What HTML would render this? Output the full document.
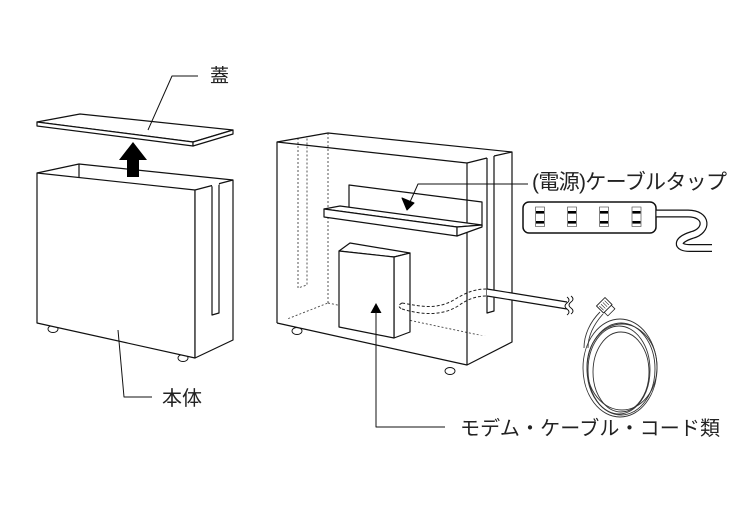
<!DOCTYPE html>
<html><head><meta charset="utf-8"><style>
html,body{margin:0;padding:0;background:#fff;}
svg{display:block;}
text{font-family:"Liberation Sans","Noto Sans CJK JP",sans-serif;fill:#222;}
</style></head><body>
<svg width="740" height="520" viewBox="0 0 740 520" xmlns="http://www.w3.org/2000/svg">
<rect width="740" height="520" fill="#fff"/>
<g fill="none" stroke="#111" stroke-width="1.2" stroke-linejoin="round">

<!-- ===== LEFT: lid ===== -->
<polygon points="37,122 80,114 233,130 193,142" fill="#fff"/>
<polygon points="37,122 193,142 193,146 37,126" fill="#fff"/>
<polygon points="193,142 233,130 233,134 193,146" fill="#fff"/>
<polyline points="148,130 172,76 198,76" stroke-width="1"/>

<!-- wheels left -->
<ellipse cx="53" cy="329" rx="5" ry="3.5" fill="#fff" stroke-width="0.9"/>
<ellipse cx="183" cy="358" rx="5" ry="3.5" fill="#fff" stroke-width="0.9"/>

<!-- box body -->
<polygon points="37,173 195,190 195,358 37,323" fill="#fff"/>
<polygon points="195,190 233,180 233,340 195,358" fill="#fff"/>
<polyline points="37,173 79,164 233,180"/>
<line x1="79" y1="164" x2="79" y2="177.5"/>
<polyline points="212,185.5 212,315 219,313 219,183.7"/>
<line x1="212" y1="185.5" x2="219" y2="183.7" stroke="#fff" stroke-width="2"/>

<!-- up arrow -->
<polygon points="133,142 147,160 139,160 139,177 127,177 127,160 119,160" fill="#000" stroke="none"/>

<!-- leader 本体 -->
<polyline points="118,330 124,397 152,397" stroke-width="1"/>

<!-- ===== RIGHT: box ===== -->
<g stroke="#444" stroke-width="0.9" stroke-dasharray="2,2">
<line x1="328" y1="133" x2="328" y2="303"/>
<line x1="277" y1="323" x2="328" y2="303"/>
<line x1="328" y1="303" x2="512" y2="342"/>
<polyline points="298,138 298,288 307,285 307,136"/>
</g>

<!-- wheels right -->
<ellipse cx="297" cy="331" rx="5" ry="3.5" fill="#fff" stroke-width="0.9"/>
<ellipse cx="450" cy="371" rx="5" ry="3.5" fill="#fff" stroke-width="0.9"/>
<polygon points="277,323 467,365 512,342 512,338 277,318" fill="#fff" stroke="none"/>

<!-- outline -->
<polyline points="277,323 277,142 328,133 512,152 512,342 467,365 277,323"/>
<polyline points="277,142 467,163 467,365"/>
<line x1="467" y1="163" x2="487" y2="158"/>
<line x1="494" y1="156" x2="512" y2="152"/>
<polyline points="487,158 487,313 494,311 494,156"/>

<!-- shelf -->
<polyline points="349,207 349,185 482,202 482,226"/>
<polygon points="324,209 340,206 482,225 457,227" fill="#fff"/>
<polygon points="324,209 457,227 457,236 324,217" fill="#fff"/>
<polygon points="457,227 482,225 482,227 457,236" fill="#fff"/>

<!-- shelf arrow -->
<polyline points="528,184 418,184 410,202" stroke-width="1"/>
<polygon points="407,210 402,198 414,203" fill="#000" stroke="#000" stroke-width="1"/>

<!-- modem -->
<polygon points="339,251 350,243 410,253 394,257" fill="#fff"/>
<polygon points="394,257 410,253 410,332 394,338" fill="#fff"/>
<polygon points="339,251 394,257 394,338 339,327" fill="#fff"/>

<!-- modem arrow -->
<polygon points="376,303 370.5,313 381.5,313" fill="#000" stroke="none"/>
<polyline points="376,312 376,427 445,427" stroke-width="1"/>

<!-- cable inside (dashed) -->
<g stroke="#222" stroke-width="1" stroke-dasharray="3,2">
<path d="M402,303 C420,306 434,310 452,301 C464,294 472,289 487,289"/>
<path d="M402,309 C422,315 442,316 458,306 C468,299 476,296 487,296"/>
<path d="M402,303 C398,305 398,307 402,309"/>
</g>

<!-- cable outside -->
<polygon points="487,289 567,302 567,309 487,296" fill="#fff" stroke="none"/>
<line x1="487" y1="289" x2="567" y2="302"/>
<line x1="487" y1="296" x2="567" y2="309"/>
<path d="M567,297 q4,3 0,6 q-4,3 0,6 q4,3 0,6" stroke-width="0.9"/>
<path d="M571,296 q4,3 0,6 q-4,3 0,6 q4,3 0,6" stroke-width="0.9"/>

<!-- power strip -->
<rect x="523" y="202" width="133" height="31" rx="6" stroke-width="1.5" fill="#fff"/>
<g stroke="#666" stroke-width="0.8" fill="#fff">
<rect x="535.5" y="207" width="9" height="19.5"/>
<rect x="567.5" y="207" width="9" height="19.5"/>
<rect x="599.5" y="207" width="9" height="19.5"/>
<rect x="632" y="207" width="9" height="19.5"/>
</g>
<g fill="#000" stroke="none">
<rect x="536" y="211" width="8" height="2.6"/>
<rect x="536" y="221" width="8" height="2.6"/>
<rect x="568" y="211" width="8" height="2.6"/>
<rect x="568" y="221" width="8" height="2.6"/>
<rect x="600" y="211" width="8" height="2.6"/>
<rect x="600" y="221" width="8" height="2.6"/>
<rect x="632.5" y="211" width="8" height="2.6"/>
<rect x="632.5" y="221" width="8" height="2.6"/>
</g>
<path d="M656.5,213.5 L688,213.5 C708,213.5 708,231 692,235 C676,240 676,248 690,248 L712,248" stroke="#111" stroke-width="8"/>
<path d="M656.5,213.5 L688,213.5 C708,213.5 708,231 692,235 C676,240 676,248 690,248 L713,248" stroke="#fff" stroke-width="5.6"/>

<!-- coiled cable -->
<g stroke="#333" stroke-width="0.9">
<ellipse cx="620" cy="368" rx="37" ry="49"/>
<ellipse cx="621" cy="369" rx="34" ry="46"/>
<ellipse cx="619" cy="370" rx="31" ry="44"/>
<ellipse cx="622" cy="367" rx="35" ry="43"/>
<ellipse cx="621" cy="372" rx="28" ry="40"/>
<path d="M584,348 C584,335 590,322 600,312"/>
<path d="M588,348 C588,336 594,324 603,314"/>
</g>
<g transform="rotate(-45 605 306)">
<rect x="599" y="300" width="12" height="10" fill="#fff" stroke="#222" stroke-width="0.9"/>
<line x1="601" y1="302" x2="601" y2="308" stroke="#222" stroke-width="0.6"/>
<line x1="603.5" y1="302" x2="603.5" y2="308" stroke="#222" stroke-width="0.6"/>
<line x1="606" y1="302" x2="606" y2="308" stroke="#222" stroke-width="0.6"/>
<line x1="608.5" y1="302" x2="608.5" y2="308" stroke="#222" stroke-width="0.6"/>
<rect x="600" y="310" width="10" height="5" fill="#fff" stroke="#222" stroke-width="0.8"/>
</g>
</g>

<!-- labels -->
<text x="210" y="82" font-size="19">蓋</text>
<text x="162" y="405" font-size="20">本体</text>
<text x="532" y="189" font-size="21" textLength="195" lengthAdjust="spacing">(電源)ケーブルタップ</text>
<text x="460" y="435" font-size="20" textLength="260" lengthAdjust="spacing">モデム・ケーブル・コード類</text>
</svg>
</body></html>
